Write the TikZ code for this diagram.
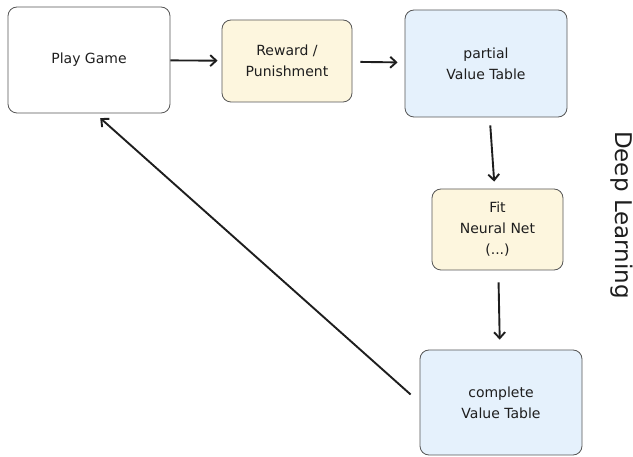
\documentclass[tikz,border=0pt]{standalone}
\usepackage{fontspec}
\setmainfont{DejaVu Sans}
\usetikzlibrary{arrows.meta}
\definecolor{ink}{HTML}{1E1E1E}
\definecolor{paleyellow}{HTML}{FDF6DE}
\definecolor{paleblue}{HTML}{E5F1FC}
\begin{document}
\begin{tikzpicture}[x=1pt,y=-1pt,
box/.style = {rectangle,
	rounded corners=9pt,
	draw=ink!75,
	line width=0.8pt,
	text=ink,
	align=center,
	inner sep=0pt,
font=\fontsize{14}{21}\selectfont},
link/.style = {draw=ink, line width=1.9pt, -{Straight Barb[length=6pt,width=11pt]}}]
\useasboundingbox (0,0) rectangle (633,457);

\node (P) at (89,60) [box, minimum width=162pt, minimum height=106pt] {Play Game};
\node (R) at (287,61) [box, fill=paleyellow, minimum width=130pt, minimum height=82pt] {Reward /\\Punishment};
\node (V) at (486,63.5) [box, fill=paleblue, minimum width=162pt, minimum height=107pt] {partial\\Value Table};
\node (N) at (497.5,229.5) [box, fill=paleyellow, minimum width=131pt, minimum height=81pt] {Fit\\Neural Net\\(...)};
\node (C) at (501,402.5) [box, fill=paleblue, minimum width=162pt, minimum height=105pt] {complete\\Value Table};
\node (D) at (622,215) [rotate=-90, text=ink, font=\fontsize{23}{23}\selectfont] {Deep Learning};

\draw [link, shorten >=4pt] (P) -- (R);
\draw [link, shorten <=8pt, shorten >=7pt] (R) -- (V);
\draw [link, shorten <=8pt, shorten >=7pt] (V) -- (N);
\draw [link, shorten <=12pt, shorten >=10pt] (N) -- (C);
\draw [link, shorten <=12pt, shorten >=7pt] (C.west) -- ([xshift=6pt]P.south);
\end{tikzpicture}
\end{document}
